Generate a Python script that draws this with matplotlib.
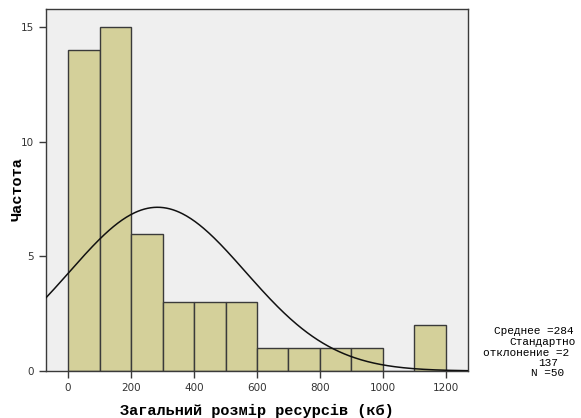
import numpy as np
import matplotlib
matplotlib.use("Agg")
import matplotlib.pyplot as plt

# histogram bins (kb) and counts
bin_edges = [0, 100, 200, 300, 400, 500, 600, 700, 800, 900, 1000, 1100, 1200]
counts = [14, 15, 6, 3, 3, 3, 1, 1, 1, 1, 0, 2]

# fitted normal curve parameters
mean_val = 284
std_val = 279.137
n_obs = 50
bin_width = 100

x_ticks = [0, 200, 400, 600, 800, 1000, 1200]
y_ticks = [0, 5, 10, 15]

mono = "Liberation Mono"

fig = plt.figure(figsize=(5.81, 4.18), dpi=100)
ax = fig.add_axes([46 / 581, 47 / 418, 422 / 581, 362 / 418])
ax.set_facecolor("#efefef")

lefts = bin_edges[:-1]
ax.bar(lefts, counts, width=np.diff(bin_edges), align="edge",
       color="#d4d09a", edgecolor="#3a3a3a", linewidth=1.0, zorder=2)

xs = np.linspace(-70, 1270, 400)
ys = n_obs * bin_width / (std_val * np.sqrt(2 * np.pi)) * np.exp(-(xs - mean_val) ** 2 / (2 * std_val ** 2))
ax.plot(xs, ys, color="#111111", linewidth=1.1, zorder=3)

ax.set_xlim(-70, 1270)
ax.set_ylim(0, 15.8)
ax.set_xticks(x_ticks)
ax.set_yticks(y_ticks)
ax.tick_params(direction="out", length=5, width=1, color="#3a3a3a",
               labelsize=7.5, labelcolor="#333333")
for s in ax.spines.values():
    s.set_color("#3a3a3a")
    s.set_linewidth(1.0)

ax.set_xlabel("Загальний розмір ресурсів (кб)", family=mono, fontweight="bold",
              fontsize=11, labelpad=8)


def px(x, y):
    return x / 581, 1 - y / 418


fig.text(*px(18, 189), "Частота", family=mono, fontweight="bold", fontsize=11,
         rotation=90, ha="center", va="center")

# stats box on the right, clipped by the figure edge like the original
fs = 8
fig.text(*px(494, 331), "Среднее =284", family=mono, fontsize=fs, va="center", ha="left")
fig.text(*px(509, 342), "Стандартно", family=mono, fontsize=fs, va="center", ha="left")
fig.text(*px(483, 352.5), "отклонение =2", family=mono, fontsize=fs, va="center", ha="left")
fig.text(*px(548, 363), "137", family=mono, fontsize=fs, va="center", ha="center")
fig.text(*px(548, 373.5), "N =%d" % n_obs, family=mono, fontsize=fs, va="center", ha="center")

fig.savefig("out.png", dpi=100)
